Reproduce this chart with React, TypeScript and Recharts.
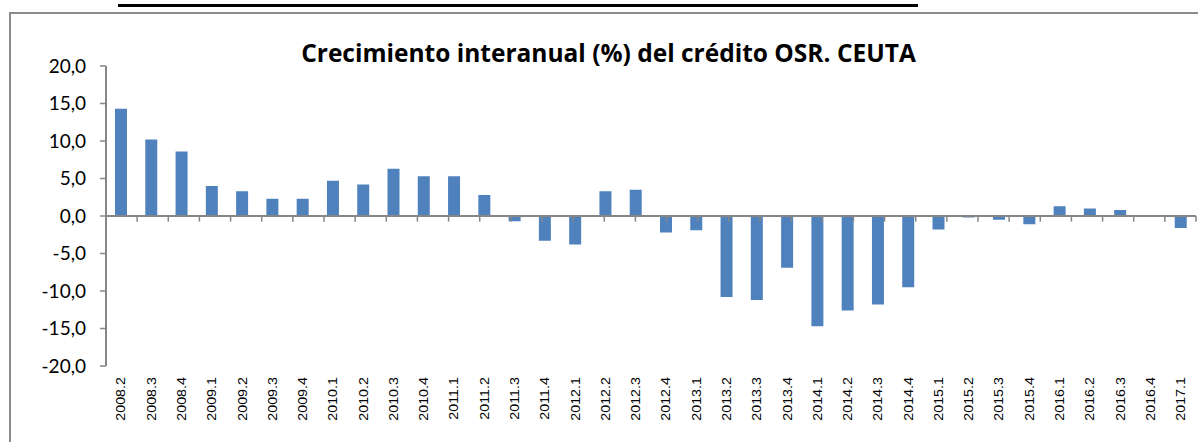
import React from 'react';
import { BarChart, Bar, XAxis, YAxis, ReferenceLine } from 'recharts';

const quarters = [
  '2008.2', '2008.3', '2008.4', '2009.1', '2009.2', '2009.3', '2009.4',
  '2010.1', '2010.2', '2010.3', '2010.4', '2011.1', '2011.2', '2011.3',
  '2011.4', '2012.1', '2012.2', '2012.3', '2012.4', '2013.1', '2013.2',
  '2013.3', '2013.4', '2014.1', '2014.2', '2014.3', '2014.4', '2015.1',
  '2015.2', '2015.3', '2015.4', '2016.1', '2016.2', '2016.3', '2016.4', '2017.1',
];
const growth = [
  14.3, 10.2, 8.6, 4.0, 3.3, 2.3, 2.3,
  4.7, 4.2, 6.3, 5.3, 5.3, 2.8, -0.7,
  -3.3, -3.8, 3.3, 3.5, -2.2, -1.9, -10.8,
  -11.2, -6.9, -14.7, -12.6, -11.8, -9.5, -1.8,
  -0.2, -0.5, -1.1, 1.3, 1.0, 0.8, 0, -1.6,
];
const yTicks = [-20, -15, -10, -5, 0, 5, 10, 15, 20];
const boundaries = quarters.map((_, i) => i + 1);

const data = quarters.map((q, i) => ({ q, v: growth[i] }));

const axisGray = '#868686';

const QuarterTick = ({ x, y, payload }: any) => (
  <g transform={`translate(${x},${y}) rotate(-90)`}>
    <text
      x={0}
      y={0}
      dy="0.35em"
      textAnchor="end"
      fill="#000"
      transform="scale(1,0.85)"
      style={{ fontSize: 14.3, fontFamily: "'Liberation Sans', Arial, sans-serif" }}
    >
      {payload.value}
    </text>
  </g>
);

const App = () => {
  return (
    <div style={{ position: 'absolute', left: 0, top: 0, width: 1198, height: 442, background: '#fff', overflow: 'hidden' }}>
      {/* decorations from the source document */}
      <div style={{ position: 'absolute', left: 118, top: 4, width: 800, height: 3, background: '#000' }} />
      <div style={{ position: 'absolute', left: 9, top: 12, width: 1189, height: 2, background: '#8c8c8c' }} />
      <div style={{ position: 'absolute', left: 9, top: 12, width: 2, height: 430, background: '#8c8c8c' }} />
      <div
        style={{
          position: 'absolute', left: 0, top: 38, width: 1217, textAlign: 'center',
          fontFamily: "'Open Sans', sans-serif", fontWeight: 700, fontSize: 24.5, lineHeight: '30px', color: '#000',
        }}
      >
        Crecimiento interanual (%) del crédito OSR. CEUTA
      </div>
      <div style={{ position: 'absolute', left: 0, top: 0 }}>
        <BarChart width={1198} height={442} data={data} margin={{ top: 66, right: 2, bottom: 16, left: 0 }}>
          <XAxis
            dataKey="q"
            interval={0}
            axisLine={false}
            tickLine={false}
            tickSize={6}
            tickMargin={5}
            height={60}
            tick={<QuarterTick />}
          />
          <XAxis xAxisId="grid" type="number" domain={[0, 36]} hide />
          <YAxis
            width={106}
            domain={[-20, 20]}
            ticks={yTicks}
            interval={0}
            tickFormatter={(v: number) => v.toFixed(1).replace('.', ',')}
            tick={{ fill: '#000', fontSize: 19, fontFamily: 'Lato, sans-serif' }}
            axisLine={{ stroke: axisGray, strokeWidth: 2 }}
            tickLine={{ stroke: axisGray, strokeWidth: 1.5 }}
            tickSize={6}
            tickMargin={14}
          />
          <Bar dataKey="v" fill="#4F81BD" barSize={12} isAnimationActive={false} />
          <ReferenceLine y={0} stroke={axisGray} strokeWidth={2} />
          {boundaries.map((b) => (
            <ReferenceLine
              key={b}
              xAxisId="grid"
              segment={[{ x: b, y: 0 }, { x: b, y: -0.75 }]}
              stroke={axisGray}
              strokeWidth={1.5}
            />
          ))}
        </BarChart>
      </div>
    </div>
  );
};

export default App;
